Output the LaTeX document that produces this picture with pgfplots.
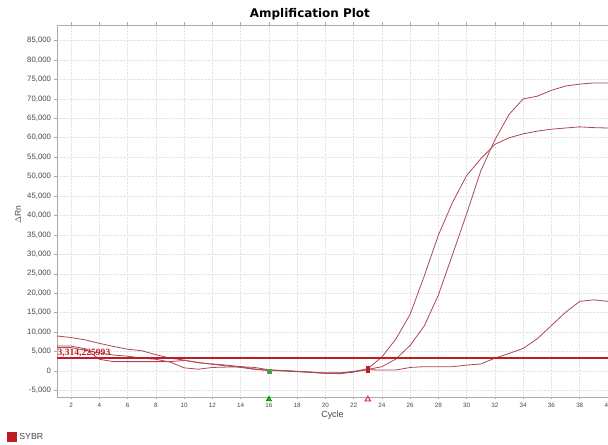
\documentclass[border=0pt]{standalone}
\usepackage{pgfplots}
\pgfplotsset{compat=1.18}
\usepackage{fontspec}
\setmainfont{Liberation Sans}
\newfontfamily\serifb{Liberation Serif}
\newfontfamily\titlefont{DejaVu Sans}
\definecolor{curve}{RGB}{172,72,84}
\definecolor{thr}{RGB}{192,28,38}
\definecolor{gridc}{RGB}{228,228,228}
\definecolor{axc}{RGB}{170,170,170}
\definecolor{tickc}{RGB}{70,70,70}
\pgfplotstableread{
c P R Q
1 6400 6000 9000
2 6400 6000 8600
3 5700 5300 8000
4 3000 4600 7100
5 2400 4100 6300
6 2400 3800 5600
7 2400 3300 5200
8 2400 3000 4200
9 2400 2300 3300
10 2700 800 2800
11 2200 450 2100
12 1700 900 1800
13 1300 1000 1500
14 900 1100 1100
15 400 900 500
16 100 300 200
17 0 100 100
18 -200 -100 -100
19 -400 -300 -300
20 -600 -600 -500
21 -600 -700 -500
22 -200 -300 -100
23 600 400 300
24 3600 1100 250
25 8300 3100 250
26 14600 6600 900
27 24500 11600 1100
28 35000 19600 1100
29 43400 30000 1100
30 50300 40500 1500
31 54600 51500 1800
32 58300 59500 3300
33 60000 66000 4500
34 61000 70000 5800
35 61700 70700 8300
36 62200 72200 11700
37 62500 73300 15100
38 62800 73800 17900
39 62600 74100 18300
40 62500 74100 17900
}\curves
\begin{document}
\begin{tikzpicture}
\useasboundingbox (0,0) rectangle (608bp,445bp);
\begin{axis}[
  at={(57bp,48bp)}, anchor=south west,
  scale only axis, width=551bp, height=372bp,
  xmin=1, xmax=40, ymin=-6700, ymax=89000,
  clip=false,
  xtick={2,4,6,8,10,12,14,16,18,20,22,24,26,28,30,32,34,36,38,40},
  ytick={-5000,0,5000,10000,15000,20000,25000,30000,35000,40000,45000,50000,55000,60000,65000,70000,75000,80000,85000},
  scaled y ticks=false,
  grid=major,
  major grid style={gridc, densely dotted, line width=0.5bp},
  axis line style={axc, line width=0.6bp},
  tick style={axc, line width=0.5bp},
  tick align=outside, major tick length=2.5bp,
  /pgf/number format/assume math mode=true,
  yticklabel style={font=\fontsize{7.8}{9}\selectfont, text=tickc, /pgf/number format/.cd, fixed, 1000 sep={,}},
  xticklabel style={font=\fontsize{6.3}{7}\selectfont, text=tickc},
  xlabel={Cycle},
  xlabel style={font=\fontsize{9}{10}\selectfont, text=tickc, at={(axis description cs:0.5,0)}, anchor=center, yshift=-18bp},
  ylabel={$\Delta$Rn},
  ylabel style={font=\fontsize{8.5}{10}\selectfont, text=tickc, at={(axis description cs:-0.071,0.49)}, anchor=center},
  title={\titlefont\bfseries Amplification Plot},
  title style={font=\fontsize{12}{14}\selectfont, at={(axis description cs:0.459,1)}, anchor=center, yshift=5bp},
  legend style={draw=none, fill=none, at={(-0.0905,-0.1075)}, anchor=west, font=\fontsize{8.8}{10}\selectfont\color{tickc}, legend cell align=left, inner sep=0pt},
  legend image code/.code={\fill[#1] (0bp,-5bp) rectangle (10bp,5bp);},
]
\addlegendimage{fill=thr, draw=none}
\addlegendentry{SYBR}
\addplot[curve, line width=0.8bp, forget plot] table[x=c, y=P] {\curves};
\addplot[curve, line width=0.8bp, forget plot] table[x=c, y=R] {\curves};
\addplot[curve, line width=0.8bp, forget plot] table[x=c, y=Q] {\curves};
\addplot[thr, line width=2.6bp, forget plot] coordinates {(1,3314) (40,3314)};
\node[anchor=south west, inner sep=0.5bp, yshift=0.5bp, font=\serifb\bfseries\fontsize{9.6}{10}\selectfont, text=thr] at (axis cs:1,3314) {3,314,225993};
\addplot[only marks, mark=square*, mark size=2.2bp, mark options={fill=green!80!black, draw=gray}, forget plot] coordinates {(16,0)};
\addplot[only marks, mark=square*, mark size=2.2bp, mark options={fill=thr, draw=thr, xscale=0.6, yscale=1.3}, forget plot] coordinates {(23,400)};
\addplot[only marks, mark=triangle*, mark size=3.2bp, mark options={fill=green!75!black, draw=green!45!black}, forget plot] coordinates {(16,-7300)};
\addplot[only marks, mark=triangle*, mark size=3.2bp, mark options={fill=red!15, draw=thr, line width=0.8bp}, forget plot] coordinates {(23,-7300)};
\end{axis}
\end{tikzpicture}
\end{document}
